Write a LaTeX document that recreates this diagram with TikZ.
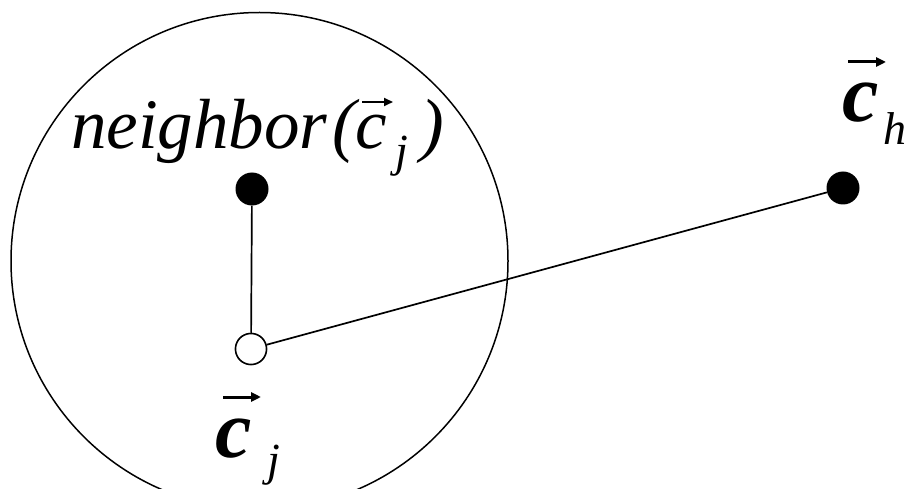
\documentclass[tikz,border=0pt]{standalone}
\usepackage{fontspec}
\setmainfont{Liberation Serif}
\usetikzlibrary{arrows.meta}
\tikzset{
  lbl/.style={inner sep=0pt, anchor=base west},
  bigit/.style={font=\fontsize{71}{80}\selectfont\itshape},
  bigbf/.style={font=\fontsize{82}{90}\selectfont\bfseries\itshape},
  subit/.style={font=\fontsize{46}{52}\selectfont\itshape},
  vecthin/.style={line width=2pt, -{Triangle[length=9pt,width=8pt]}},
  vecthick/.style={line width=3pt, -{Triangle[length=10pt,width=9pt]}},
  filleddot/.style={circle, fill=black, inner sep=0pt, minimum size=33pt},
  opendot/.style={circle, draw=black, fill=white, line width=1.5pt, inner sep=0pt, minimum size=31pt},
  connector/.style={line width=1.7pt},
}
\begin{document}
\begin{tikzpicture}[x=1pt,y=-1pt]
\useasboundingbox (0,0) rectangle (908,489);
% neighbourhood circle
\node[circle, draw=black, line width=1.5pt, inner sep=0pt, minimum size=497pt] (circ) at (259.5,261) {};
% points
\node[filleddot] (pn) at (252,189) {};
\node[filleddot] (ph) at (843,188) {};
\node[opendot] (pj) at (251,349) {};
\draw[connector] (pn) -- (pj);
\draw[connector] (pj) -- (ph);
\node[opendot] at (pj) {};
% label neighbor(c_j)
\node[lbl, bigit] (nbtext) at (71,149) {neighbor};
\node[lbl, bigit] (lparen) at (332,149) {(};
\node[lbl, bigit] (cnb) at (355,149) {c};
\node[lbl, subit] (jnb) at (395,167) {j};
\node[lbl, bigit] (rparen) at (420,149) {)};
\coordinate (anbs) at (362,102);
\coordinate (anbe) at (393,102);
\draw[vecthin] (anbs) -- (anbe);
% label c_j
\node[lbl, bigbf] (cj) at (215,457) {c};
\node[lbl, subit] (jj) at (267,475) {j};
\coordinate (ajs) at (223,397);
\coordinate (aje) at (261,397);
\draw[vecthick] (ajs) -- (aje);
% label c_h
\node[lbl, bigbf] (ch) at (842,122) {c};
\node[lbl, subit] (hh) at (883,145) {h};
\coordinate (ahs) at (848,62);
\coordinate (ahe) at (886,62);
\draw[vecthick] (ahs) -- (ahe);
\end{tikzpicture}
\end{document}
